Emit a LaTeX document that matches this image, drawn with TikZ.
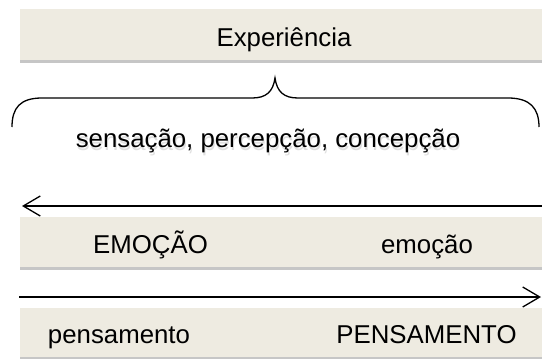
\documentclass[tikz,border=0pt]{standalone}
\usepackage{fontspec}
\setmainfont{Liberation Sans}
\usetikzlibrary{arrows.meta,shadows}
\definecolor{bege}{HTML}{EEEBE1}
\tikzset{
  caixa/.style={fill=bege, minimum width=264pt, minimum height=25pt, inner sep=0pt,
    anchor=north west, drop shadow={shadow xshift=0pt, shadow yshift=-1.5pt, fill=black!50, opacity=.45}},
  texto/.style={anchor=base, inner sep=0pt, font=\fontsize{12.9}{15}\selectfont},
  seta/.style={line width=0.65pt, -{Straight Barb[length=8.5pt,width=10pt]}},
}
\begin{document}
\begin{tikzpicture}[x=0.5pt,y=-0.5pt]
\useasboundingbox (0,0) rectangle (542,359);
% caixas
\node [caixa, minimum height=25.5pt] (exp) at (20,9) {};
\node [caixa] (emo) at (20,217) {};
\node [caixa, minimum height=24.5pt] (pen) at (20,308) {};
% textos
\node [texto] (experiencia) at (284,46) {Experiência};
\node [texto, opacity=.12] (sombra) at (269,150) {sensação, percepção, concepção};
\node [texto] (sens) at (268,147) {sensação, percepção, concepção};
\node [texto] (EMO) at (150.5,253) {EMOÇÃO};
\node [texto] (emocao) at (427,253) {emoção};
\node [texto] (pensamento) at (119,343) {pensamento};
\node [texto] (PEN) at (426.5,343) {PENSAMENTO};
% chaveta
\draw [line width=0.65pt] (12,127) .. controls (12,108) and (20,98) .. (42,98) -- (252,98)
  .. controls (266,98) and (273,92) .. (275,78)
  .. controls (277,92) and (284,98) .. (298,98) -- (508,98)
  .. controls (530,98) and (539,108) .. (539,127);
% setas
\coordinate (emoA) at (542,206);
\coordinate (emoB) at (22,206);
\coordinate (penA) at (19,297);
\coordinate (penB) at (541,297);
\draw [seta] (emoA) -- (emoB);
\draw [seta] (penA) -- (penB);
\end{tikzpicture}
\end{document}
